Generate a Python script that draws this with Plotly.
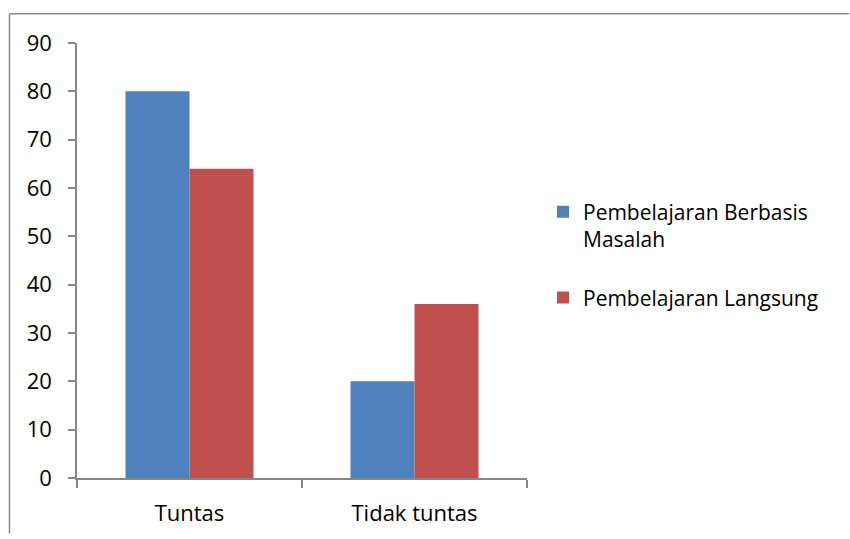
import plotly.graph_objects as go

categories = ["Tuntas", "Tidak tuntas"]
series_names = ["Pembelajaran Berbasis<br>Masalah", "Pembelajaran Langsung"]
pbm_values = [80, 20]
langsung_values = [64, 36]
colors = ["#4F81BD", "#C0504D"]
y_ticks = [0, 10, 20, 30, 40, 50, 60, 70, 80, 90]

FONT = "Open Sans"
W, H = 850, 539
L, T = 77, 43
pw, ph = 450, 439
R, B = W - L - pw, H - T - ph

def px_x(x):  # page pixel -> paper x
    return (x - L) / pw

def px_y(y):  # page pixel -> paper y
    return 1 - (y - T) / ph

fig = go.Figure()
for i, (name, vals, c) in enumerate(zip(series_names, [pbm_values, langsung_values], colors)):
    fig.add_trace(go.Bar(x=categories, y=vals, name=name, marker_color=c,
                         marker_line_width=0, legendgroup=f"g{i}"))

border = dict(color="#8a8a8a", width=1.5)
fig.update_layout(
    width=W, height=H,
    margin=dict(l=L, r=R, t=T, b=B, pad=0),
    paper_bgcolor="white", plot_bgcolor="white",
    barmode="group", bargap=0.431, bargroupgap=0,
    font=dict(family=FONT, size=22, color="#000000"),
    showlegend=True,
    legend=dict(x=px_x(543), xanchor="left", y=px_y(193), yanchor="top",
                font=dict(family=FONT, size=21), itemwidth=30, tracegroupgap=28,
                valign="top", bgcolor="rgba(0,0,0,0)"),
    xaxis=dict(showline=True, linecolor="#868686", linewidth=1.5, ticks="outside",
               tickson="boundaries", ticklen=8, tickcolor="#868686", tickwidth=1.5,
               showgrid=False, ticklabelstandoff=15),
    yaxis=dict(range=[0, 90], tickvals=y_ticks, showline=True, linecolor="#868686",
               linewidth=1.5, ticks="outside", ticklen=7, tickcolor="#868686",
               tickwidth=1.5, showgrid=False, zeroline=False, ticklabelstandoff=12),
    shapes=[
        dict(type="line", xref="paper", yref="paper", x0=px_x(9.5), x1=px_x(W - 1),
             y0=px_y(13.5), y1=px_y(13.5), line=border, layer="below"),
        dict(type="line", xref="paper", yref="paper", x0=px_x(9.5), x1=px_x(9.5),
             y0=px_y(13.5), y1=px_y(H - 1), line=border, layer="below"),
    ],
)

fig.write_html("out.html", config={"displayModeBar": False},
               post_script="document.body.style.margin='0';"
                           "document.body.style.overflow='hidden';"
                           "document.documentElement.style.overflow='hidden';"
                           "var gd=document.getElementById('{plot_id}');"
                           "gd.style.overflow='hidden';")
